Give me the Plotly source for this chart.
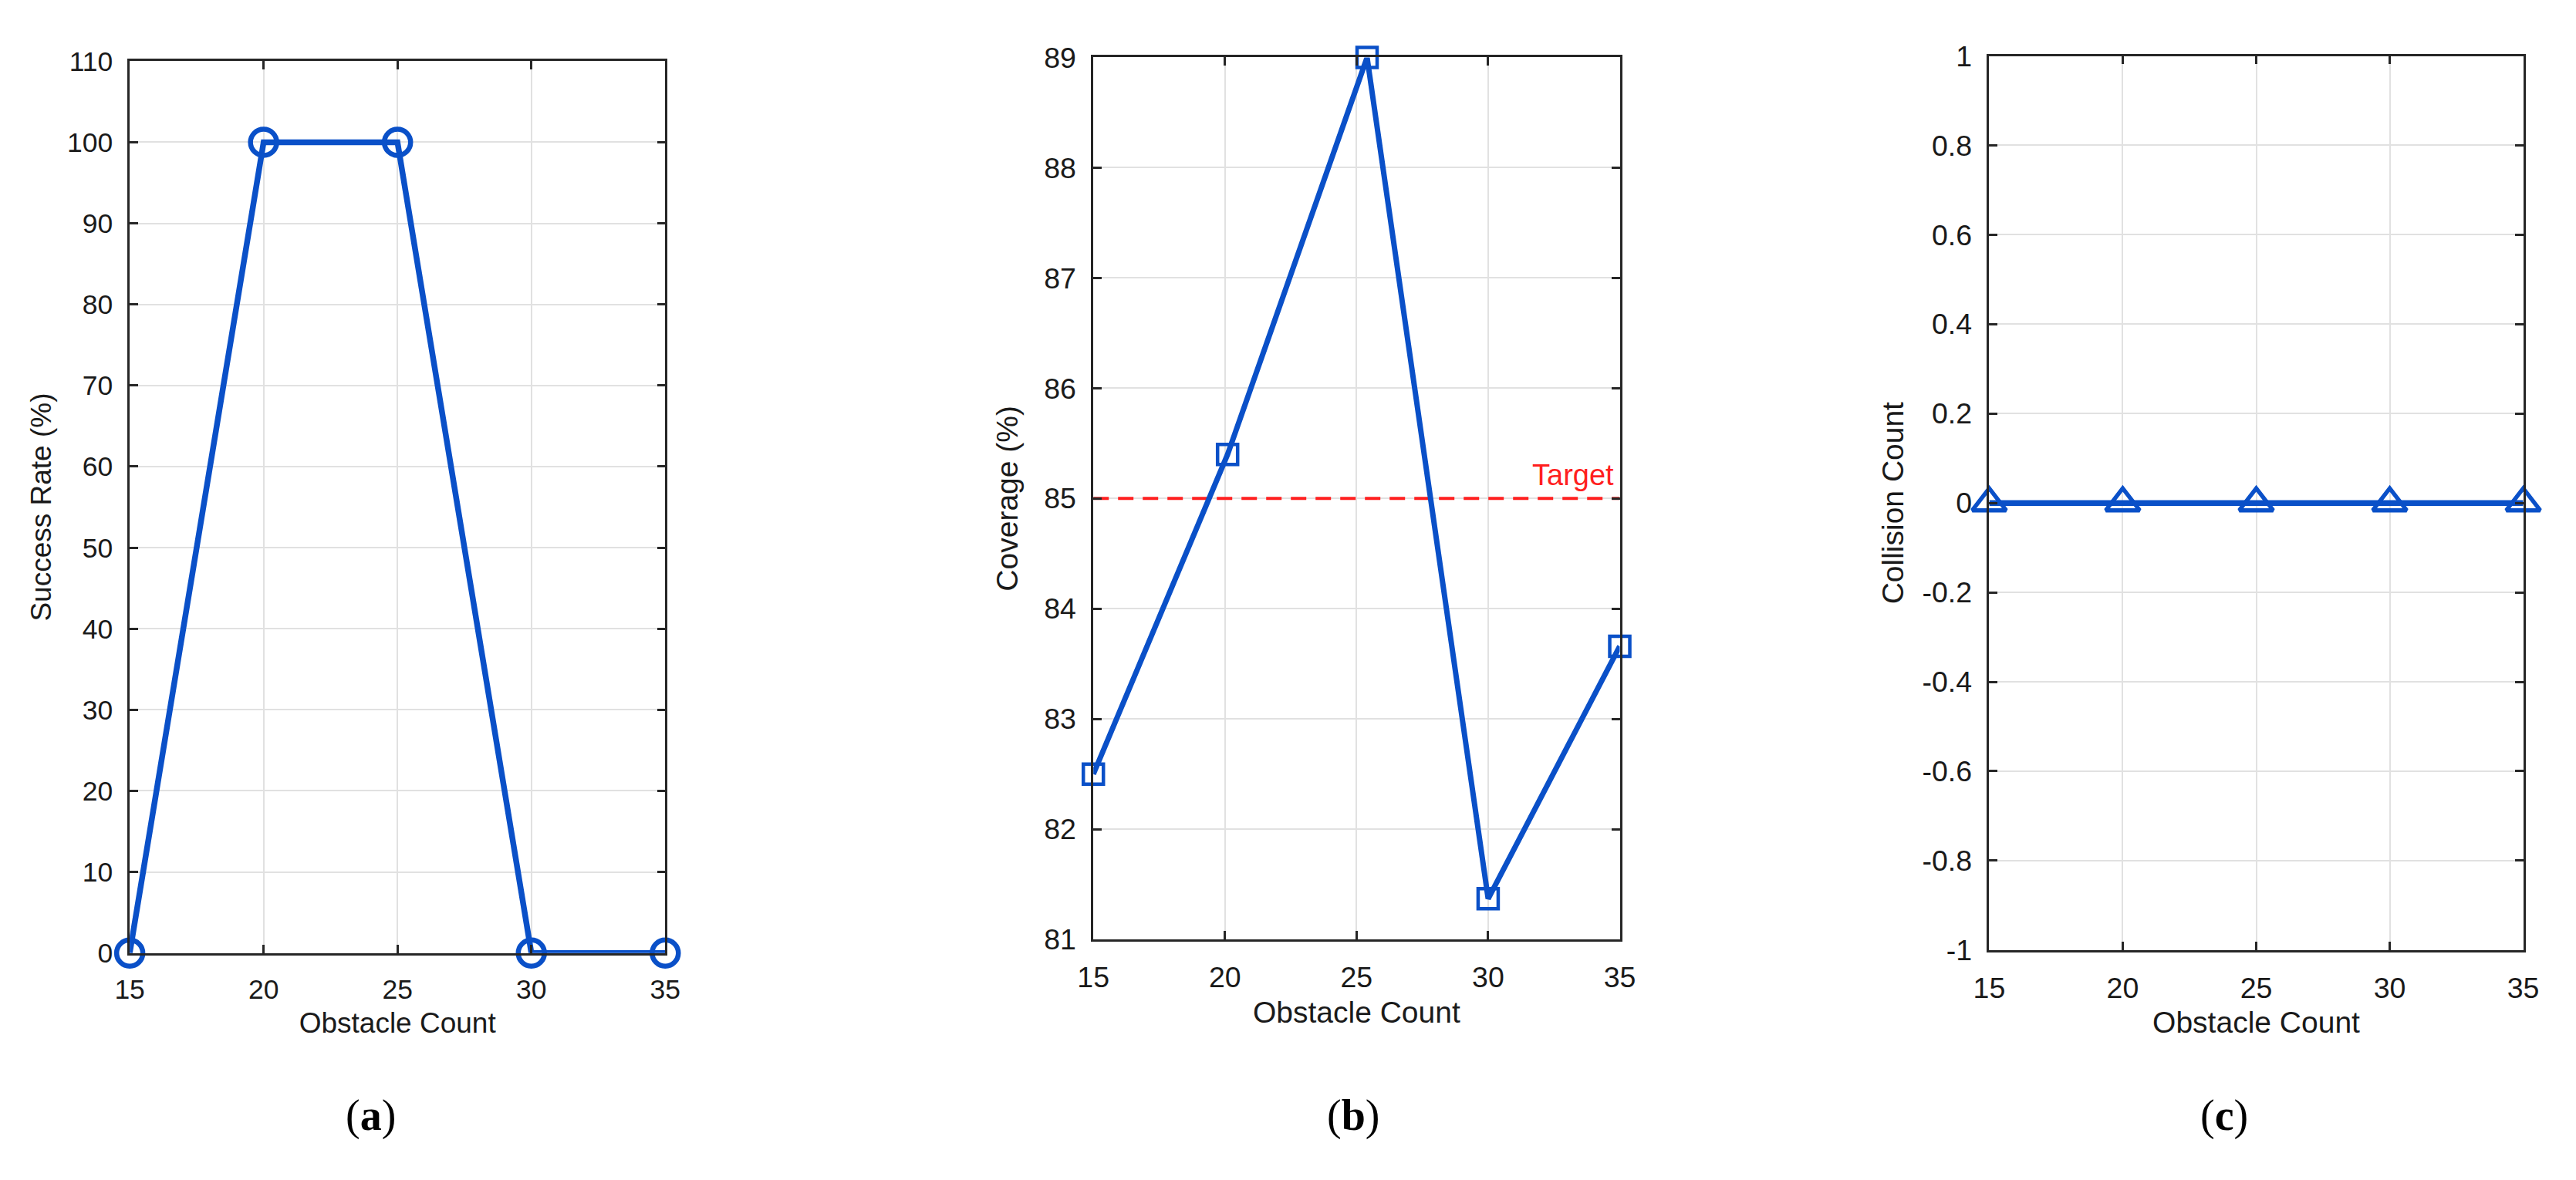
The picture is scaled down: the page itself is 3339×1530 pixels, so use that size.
import plotly.graph_objects as go

# ---------------- data ----------------
obstacle_counts = [15, 20, 25, 30, 35]
success_rate = [0, 100, 100, 0, 0]

coverage_x = [15, 20.1, 25.4, 30, 35]
coverage = [82.5, 85.4, 89.0, 81.37, 83.66]
coverage_target = 85

collision_count = [0, 0, 0, 0, 0]

x_ticks = [15, 20, 25, 30, 35]
a_yticks = list(range(0, 111, 10))
b_yticks = [81, 82, 83, 84, 85, 86, 87, 88, 89]
c_yticks = [-1, -0.8, -0.6, -0.4, -0.2, 0, 0.2, 0.4, 0.6, 0.8, 1]
c_yticklabels = ["-1", "-0.8", "-0.6", "-0.4", "-0.2", "0", "0.2", "0.4", "0.6", "0.8", "1"]

panel_labels = ["a", "b", "c"]

# ---------------- style ----------------
W, H = 3339, 1530
BLUE = "#0a50c8"
RED = "#ff1f1f"
AX = "#262626"
GRID = "#e1e1e1"
FONT = "Liberation Sans, Arial, sans-serif"

def px_dom(a, b, total):
    return [a / total, b / total]

def ydom(top, bottom):
    return [1 - bottom / H, 1 - top / H]

fig = go.Figure()

# panel a
fig.add_trace(go.Scatter(
    x=obstacle_counts, y=success_rate, mode="lines+markers",
    line=dict(color=BLUE, width=7.5),
    marker=dict(symbol="circle-open", size=34, color=BLUE, line=dict(color=BLUE, width=6.5)),
    cliponaxis=False, xaxis="x", yaxis="y", showlegend=False))

# panel b
fig.add_trace(go.Scatter(
    x=[x_ticks[0], x_ticks[-1]], y=[coverage_target, coverage_target], mode="lines",
    line=dict(color=RED, width=4, dash="20px,12px"),
    xaxis="x2", yaxis="y2", showlegend=False))
fig.add_trace(go.Scatter(
    x=coverage_x, y=coverage, mode="lines+markers",
    line=dict(color=BLUE, width=7),
    marker=dict(symbol="square-open", size=26, color=BLUE, line=dict(color=BLUE, width=4.5)),
    cliponaxis=False, xaxis="x2", yaxis="y2", showlegend=False))

# panel c
fig.add_trace(go.Scatter(
    x=obstacle_counts, y=collision_count, mode="lines+markers",
    line=dict(color=BLUE, width=7.5),
    marker=dict(symbol="triangle-up-open", size=38, color=BLUE, line=dict(color=BLUE, width=5.5)),
    cliponaxis=False, xaxis="x3", yaxis="y3", showlegend=False))

def xaxis(dom, anchor, fs):
    return dict(
        domain=dom, anchor=anchor, range=[15, 35], tickvals=x_ticks,
        ticks="inside", ticklen=11, tickwidth=2.5, tickcolor=AX,
        showline=True, linecolor=AX, linewidth=2.5, mirror="allticks",
        showgrid=True, gridcolor=GRID, gridwidth=2, zeroline=False,
        tickfont=dict(family=FONT, size=fs, color="#1a1a1a"),
        ticklabelstandoff=14,
        title=dict(text="Obstacle Count", font=dict(family=FONT, size=fs + 1.5, color="#1a1a1a"), standoff=12),
    )

def yaxis(dom, anchor, rng, tv, tt, title, fs, standoff):
    d = dict(
        domain=dom, anchor=anchor, range=rng, tickvals=tv,
        ticks="inside", ticklen=11, tickwidth=2.5, tickcolor=AX,
        showline=True, linecolor=AX, linewidth=2.5, mirror="allticks",
        showgrid=True, gridcolor=GRID, gridwidth=2, zeroline=False,
        tickfont=dict(family=FONT, size=fs, color="#1a1a1a"),
        ticklabelstandoff=12,
        title=dict(text=title, font=dict(family=FONT, size=fs + 1.5, color="#1a1a1a"), standoff=standoff),
    )
    if tt is not None:
        d["ticktext"] = tt
    return d

fig.update_layout(
    width=W, height=H,
    margin=dict(l=0, r=0, t=0, b=0),
    paper_bgcolor="white", plot_bgcolor="white",
    showlegend=False,
    xaxis=xaxis(px_dom(149, 852, W), "y", 35.5),
    yaxis=yaxis(ydom(60, 1249), "x", [0, 110], a_yticks, None, "Success Rate (%)", 35.5, 10),
    xaxis2=xaxis(px_dom(1414, 2105, W), "y2", 37.5),
    yaxis2=yaxis(ydom(55, 1231), "x2", [81, 89], b_yticks, None, "Coverage (%)", 37.5, 22),
    xaxis3=xaxis(px_dom(2590, 3291, W), "y3", 37.5),
    yaxis3=yaxis(ydom(53, 1245), "x3", [-1, 1], c_yticks, c_yticklabels, "Collision Count", 37.5, 12),
)

annotations = [
    dict(text="Target", x=35, y=coverage_target, xref="x2", yref="y2",
         xanchor="right", yanchor="bottom", xshift=-6, yshift=7, showarrow=False,
         font=dict(family=FONT, size=38, color=RED)),
]
label_x = [465, 1755, 2898]
for lab, cx in zip(panel_labels, label_x):
    annotations.append(dict(
        text="(<b>%s</b>)" % lab, x=cx / W, y=1 - 1466 / H, xref="paper", yref="paper",
        xanchor="center", yanchor="middle", showarrow=False,
        font=dict(family="Liberation Serif, Times New Roman, serif", size=56, color="black")))
fig.update_layout(annotations=annotations)

fig.write_html("out.html", config={"displayModeBar": False},
               post_script="document.body.style.margin='0';")
